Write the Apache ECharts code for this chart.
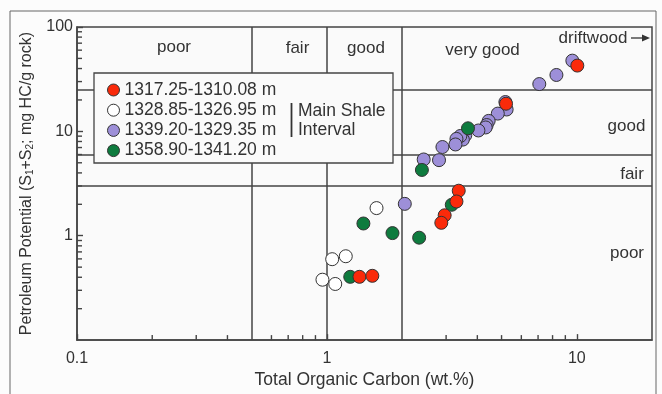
<!DOCTYPE html>
<html><head><meta charset="utf-8">
<script src="https://cdn.jsdelivr.net/npm/echarts@6/dist/echarts.min.js"></script>
<style>html,body{margin:0;padding:0;background:#fcfcfc}#c{width:662px;height:394px}</style>
</head><body><div id="c"></div>
<script>
// ---- data ----
const seriesNames = ['1317.25-1310.08 m','1328.85-1326.95 m','1339.20-1329.35 m','1358.90-1341.20 m'];
const redTOC = [10.05, 5.21, 3.37, 3.30, 2.96, 2.87, 1.35, 1.52];
const redPP  = [42.7, 18.4, 2.70, 2.13, 1.57, 1.33, 0.404, 0.413];
const whiteTOC = [1.58, 1.05, 1.19, 0.96, 1.08];
const whitePP  = [1.84, 0.596, 0.636, 0.379, 0.345];
const purpleTOC = [9.6, 8.29, 7.08, 5.18, 5.24, 4.83, 4.44, 4.36, 4.32, 4.04, 3.58, 3.50, 3.42, 3.30, 3.27, 2.90, 2.81, 2.44, 2.05];
const purplePP  = [47.6, 34.7, 28.4, 19.1, 16.2, 14.8, 12.6, 11.5, 10.9, 10.2, 9.17, 8.34, 9.03, 8.47, 7.49, 7.08, 5.30, 5.38, 2.02];
const greenTOC = [3.67, 2.40, 3.16, 1.24, 1.40, 1.83, 2.34];
const greenPP  = [10.7, 4.27, 1.98, 0.404, 1.31, 1.06, 0.958];
const tocBounds = [0.5, 1, 2];
const ppBounds = [3, 6, 25];
const xMinorTicks = [0.2,0.3,0.4,0.6,0.7,0.8,0.9,3,4,5,6,7,8,9];
const yMinorTicks = [0.2,0.3,0.4,0.5,0.6,0.7,0.8,0.9,2,3,4,5,6,7,8,9,20,30,40,50,60,70,80,90];
const xTickLabels = [0.1, 1, 10];
const yTickLabels = [1, 10, 100];

const zip = (a,b)=>a.map((v,i)=>[v,b[i]]);
const txt = '#333';
const font = 'Liberation Sans, Arial, sans-serif';
const chart = echarts.init(document.getElementById('c'));

function tickSeries(vals, horiz){
  return {
    type:'scatter', silent:true, clip:false, z:3, symbol:'rect',
    symbolSize: horiz ? [1.4, 5] : [5, 1.4],
    symbolOffset: horiz ? [0, -2.5] : [2.5, 0],
    itemStyle:{color:'#444', opacity:1},
    data: vals.map(v=> horiz ? [v, 0.1] : [0.1, v])
  };
}
function scat(name, data, color){
  return {type:'scatter', name, data, symbol:'circle', symbolSize:13, z:5,
    itemStyle:{color, borderColor:'#333', borderWidth:1, opacity:1}};
}
const T = (text, x, y, size, align)=>({type:'text', x, y, z:30, silent:true,
  style:{text, fill:txt, font:(size||17)+'px '+font, align:align||'center', verticalAlign:'middle'}});

chart.setOption({
  backgroundColor:'#fcfcfc',
  animation:false,
  grid:{left:77, top:27, right:10, bottom:47, show:true, borderColor:'#444', borderWidth:1.5, backgroundColor:'#fafafa'},
  xAxis:{type:'log', logBase:10, min:0.1, max:20,
    name:'Total Organic Carbon (wt.%)', nameLocation:'middle', nameGap:25,
    nameTextStyle:{color:txt, fontSize:17.5, fontFamily:font},
    axisLine:{lineStyle:{color:'#444', width:1.5}},
    axisTick:{inside:true, length:6, lineStyle:{color:'#444', width:1.4}},
    axisLabel:{color:txt, fontSize:16, fontFamily:font, margin:10, showMaxLabel:false,
      formatter:v=> xTickLabels.some(t=>Math.abs(t-v)<1e-9) ? String(v) : ''},
    splitLine:{show:false}},
  yAxis:{type:'log', logBase:10, min:0.1, max:100,
    name:'{a|Petroleum Potential (S}{s|1}{a|+S}{s|2}{a|; mg HC/g rock)}', nameLocation:'middle', nameGap:32,
    nameTextStyle:{color:txt, fontFamily:font, rich:{
      a:{fontSize:16, color:txt, fontFamily:font, lineHeight:18, verticalAlign:'middle'},
      s:{fontSize:10, color:txt, fontFamily:font, lineHeight:18, verticalAlign:'bottom', padding:[6,0,0,0]}}},
    axisLine:{lineStyle:{color:'#444', width:1.5}},
    axisTick:{inside:true, length:6, lineStyle:{color:'#444', width:1.4}},
    axisLabel:{color:txt, fontSize:16, fontFamily:font, margin:4, showMinLabel:false,
      formatter:v=> yTickLabels.some(t=>Math.abs(t-v)<1e-9) ? String(v) : ''},
    splitLine:{show:false}},
  legend:{orient:'vertical', left:107, top:81, padding:0, itemWidth:12, itemHeight:12, itemGap:2.2, z:40,
    icon:'circle', data:seriesNames,
    itemStyle:{borderColor:'#333', borderWidth:1},
    textStyle:{color:txt, fontSize:17.5, fontFamily:font, lineHeight:17}},
  graphic:[
    {type:'rect', z:-10, silent:true, shape:{x:10, y:11, width:646, height:400}, style:{fill:'none', stroke:'#666', lineWidth:1}},
    {type:'rect', z:20, silent:true, shape:{x:94, y:73, width:299, height:90}, style:{fill:'#fafafa', stroke:'#444', lineWidth:1.3}},
    {type:'line', z:30, silent:true, shape:{x1:291.5, y1:103, x2:291.5, y2:137}, style:{stroke:'#333', lineWidth:1.8}},
    T('Main Shale', 298, 111, 17.5, 'left'),
    T('Interval', 298, 130, 17.5, 'left'),
    T('poor', 174, 47), T('fair', 297.5, 48), T('good', 366, 48), T('very good', 482.5, 50),
    T('driftwood', 593, 38),
    {type:'line', z:30, silent:true, shape:{x1:631, y1:38, x2:646, y2:38}, style:{stroke:'#333', lineWidth:1.3}},
    {type:'polygon', z:30, silent:true, shape:{points:[[650,38],[642,34.5],[642,41.5]]}, style:{fill:'#333'}},
    T('good', 626.5, 126), T('fair', 632, 174), T('poor', 627, 253)
  ],
  series:[
    {type:'line', data:[], silent:true, z:2,
      markLine:{silent:true, symbol:['none','none'], label:{show:false},
        lineStyle:{color:'#444', width:1.5, type:'solid'},
        data: tocBounds.map(v=>({xAxis:v})).concat(ppBounds.map(v=>({yAxis:v})))}},
    tickSeries(xMinorTicks, true),
    tickSeries(yMinorTicks, false),
    scat(seriesNames[2], zip(purpleTOC, purplePP), '#9d8fd8'),
    scat(seriesNames[1], zip(whiteTOC, whitePP), '#ffffff'),
    scat(seriesNames[3], zip(greenTOC, greenPP), '#0e7b3e'),
    scat(seriesNames[0], zip(redTOC, redPP), '#fa2a0a')
  ]
});
</script></body></html>
